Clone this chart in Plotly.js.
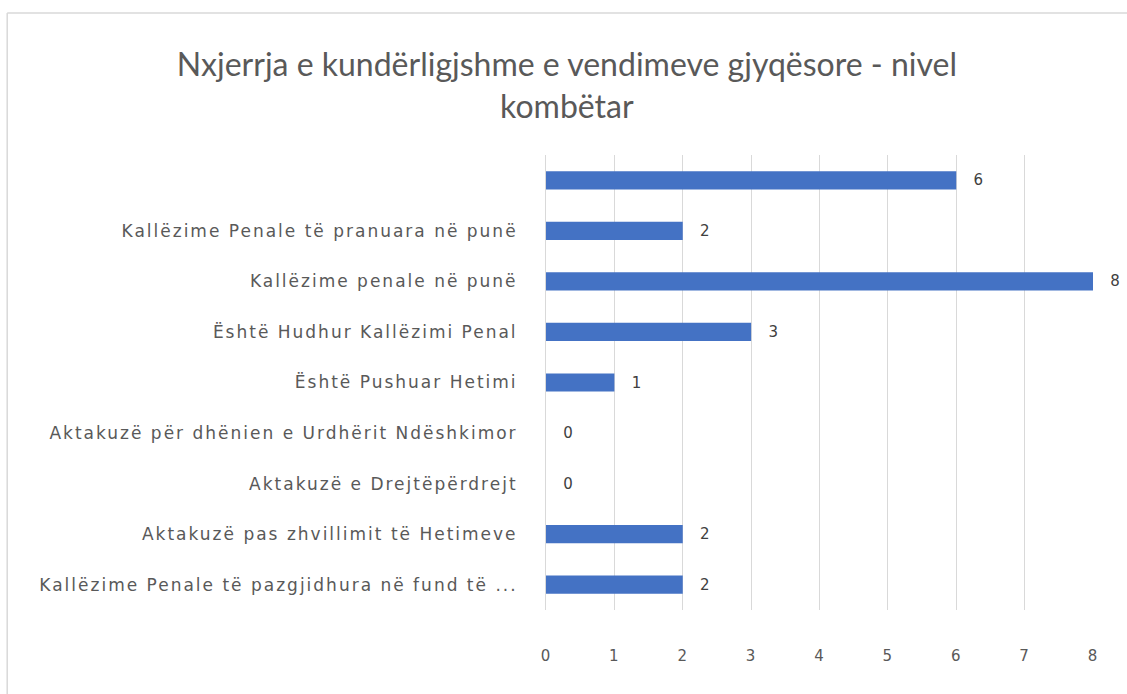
<!DOCTYPE html>
<html>
<head>
<meta charset="utf-8">
<script src="https://cdn.plot.ly/plotly-3.0.1.min.js"></script>
<style>
html,body{margin:0;padding:0;background:#fff;}
#chart{width:1127px;height:694px;}
#chart .ytick text{letter-spacing:2px;}
#chart .xtick text{letter-spacing:1px;}
</style>
</head>
<body>
<div id="chart"></div>
<script>
// Categories listed top to bottom
const categories = [
  " ",
  "Kallëzime Penale të pranuara në punë",
  "Kallëzime penale në punë",
  "Është Hudhur Kallëzimi Penal",
  "Është Pushuar Hetimi",
  "Aktakuzë për dhënien e Urdhërit Ndëshkimor",
  "Aktakuzë e Drejtëpërdrejt",
  "Aktakuzë pas zhvillimit të Hetimeve",
  "Kallëzime Penale të pazgjidhura në fund të ..."
];
const values = [6, 2, 8, 3, 1, 0, 0, 2, 2];
const tickValues = [0, 1, 2, 3, 4, 5, 6, 7, 8];
const titleText = "Nxjerrja e kundërligjshme e vendimeve gjyqësore - nivel<br>kombëtar";

const trace = {
  type: "bar",
  orientation: "h",
  x: values,
  y: categories,
  width: 0.36,
  marker: {color: "#4472C4"},
  text: values.map(v => "   " + v),
  textposition: "outside",
  textfont: {family: "DejaVu Sans", size: 15, color: "#404040"},
  cliponaxis: false,
  hoverinfo: "x+y"
};

const layout = {
  width: 1127,
  height: 694,
  paper_bgcolor: "#ffffff",
  plot_bgcolor: "#ffffff",
  margin: {l: 546, r: 34, t: 155, b: 84},
  showlegend: false,
  title: {
    text: titleText,
    font: {family: "Lato", size: 32, color: "#595959"},
    x: 0.503,
    xanchor: "center",
    y: 0.89,
    yanchor: "top"
  },
  xaxis: {
    range: [0, 8],
    tickvals: tickValues,
    ticktext: tickValues.map(String),
    showgrid: true,
    gridcolor: "#d9d9d9",
    gridwidth: 1,
    zeroline: false,
    showline: false,
    ticks: "",
    ticklabelstandoff: 35,
    tickfont: {family: "DejaVu Sans", size: 15, color: "#595959"},
    fixedrange: true
  },
  yaxis: {
    type: "category",
    categoryorder: "array",
    categoryarray: categories,
    autorange: "reversed",
    showgrid: false,
    zeroline: false,
    showline: true,
    linecolor: "#d9d9d9",
    linewidth: 1,
    ticks: "",
    ticklabelstandoff: 24,
    tickfont: {family: "DejaVu Sans", size: 17, color: "#595959"},
    fixedrange: true
  },
  shapes: [
    {type: "line", xref: "paper", yref: "paper", x0: -0.985, x1: 1.1, y0: 1.312, y1: 1.312, line: {color: "#d9d9d9", width: 1.5}},
    {type: "line", xref: "paper", yref: "paper", x0: -0.985, x1: -0.985, y0: -0.2, y1: 1.312, line: {color: "#d9d9d9", width: 1.5}}
  ]
};

Plotly.newPlot("chart", [trace], layout, {displayModeBar: false, staticPlot: true});
</script>
</body>
</html>
